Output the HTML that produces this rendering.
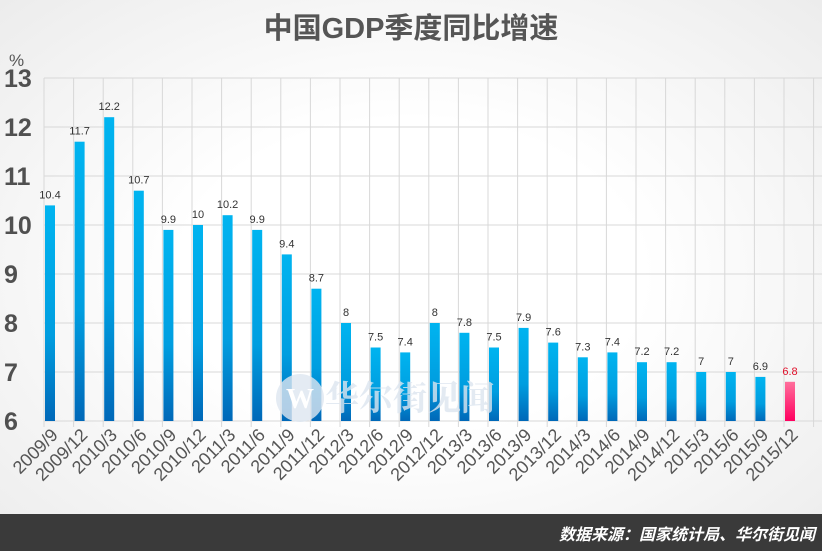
<!DOCTYPE html><html><head><meta charset="utf-8"><style>
body{margin:0;width:822px;height:551px;overflow:hidden;background:radial-gradient(ellipse at center,#ffffff 40%,#ececec 100%);font-family:"Liberation Sans","Noto Sans CJK SC",sans-serif;}
</style></head><body>
<svg width="822" height="551" xmlns="http://www.w3.org/2000/svg" style="position:absolute;left:0;top:0">
<defs>
<linearGradient id="b" x1="0" y1="0" x2="0" y2="1"><stop offset="0" stop-color="#00b4f0"/><stop offset="0.6" stop-color="#009ee0"/><stop offset="1" stop-color="#0068b8"/></linearGradient>
<linearGradient id="p" x1="0" y1="0" x2="0" y2="1"><stop offset="0" stop-color="#ff6f9c"/><stop offset="1" stop-color="#ff0060"/></linearGradient>
</defs>
<text x="411" y="38" text-anchor="middle" font-size="29" font-weight="bold" fill="#555" font-family="Liberation Sans,Noto Sans CJK SC,sans-serif">中国GDP季度同比增速</text>
<text x="9" y="66" font-size="17" fill="#555">%</text>
<g id="grid" stroke="#d8d8d8" stroke-width="1"></g>
<g id="bars"></g>
<circle cx="300" cy="398" r="24" fill="#dde6f0" opacity="0.8"/>
<text x="300" y="408" text-anchor="middle" font-size="28" font-weight="bold" fill="#fff" font-family="Liberation Serif,serif">W</text>
<text x="410" y="410" font-size="34" fill="#dde6f0" font-family="Noto Serif CJK SC,serif" font-weight="bold" text-anchor="middle" opacity="0.8">华尔街见闻</text>
<rect x="0" y="514" width="822" height="37" fill="#3a3a3a"/>
<text x="815" y="540" text-anchor="end" font-size="16" font-weight="bold" font-style="italic" fill="#fff" font-family="Noto Sans CJK SC,sans-serif">数据来源：国家统计局、华尔街见闻</text>
</svg>
<script>
var v=[10.4,11.7,12.2,10.7,9.9,10,10.2,9.9,9.4,8.7,8,7.5,7.4,8,7.8,7.5,7.9,7.6,7.3,7.4,7.2,7.2,7,7,6.9,6.8];
var c=["2009/9","2009/12","2010/3","2010/6","2010/9","2010/12","2011/3","2011/6","2011/9","2011/12","2012/3","2012/6","2012/9","2012/12","2013/3","2013/6","2013/9","2013/12","2014/3","2014/6","2014/9","2014/12","2015/3","2015/6","2015/9","2015/12"];
var ns="http://www.w3.org/2000/svg",s=document.querySelector("svg"),g=document.getElementById("grid"),bg=document.getElementById("bars");
function el(t,a,p,tx){var e=document.createElementNS(ns,t);for(var k in a)e.setAttribute(k,a[k]);if(tx!=null)e.textContent=tx;(p||s).appendChild(e);return e;}
function Y(x){return 421-(x-6)*49;}
for(var i=6;i<=13;i++){el("line",{x1:44,x2:822,y1:Y(i),y2:Y(i)},g);el("text",{x:4,y:Y(i)+9,"font-size":25,"font-weight":"bold",fill:"#505050"},null,i);}
for(var i=0;i<=26;i++){var x=44+i*29.6;el("line",{x1:x,x2:x,y1:78,y2:427},g);}
v.forEach(function(d,i){var x=45+i*29.6,last=i==25;
el("rect",{x:x,y:Y(d),width:10,height:421-Y(d),fill:last?"url(#p)":"url(#b)"},bg);
el("text",{x:x+5,y:Y(d)-7,"text-anchor":"middle","font-size":11,fill:last?"#e0102a":"#333"},bg,""+d);
el("text",{x:0,y:0,"text-anchor":"end","font-size":18,fill:"#555",transform:"translate("+(x+14)+",436) rotate(-45)"},bg,c[i]);});
</script>
</body></html>
